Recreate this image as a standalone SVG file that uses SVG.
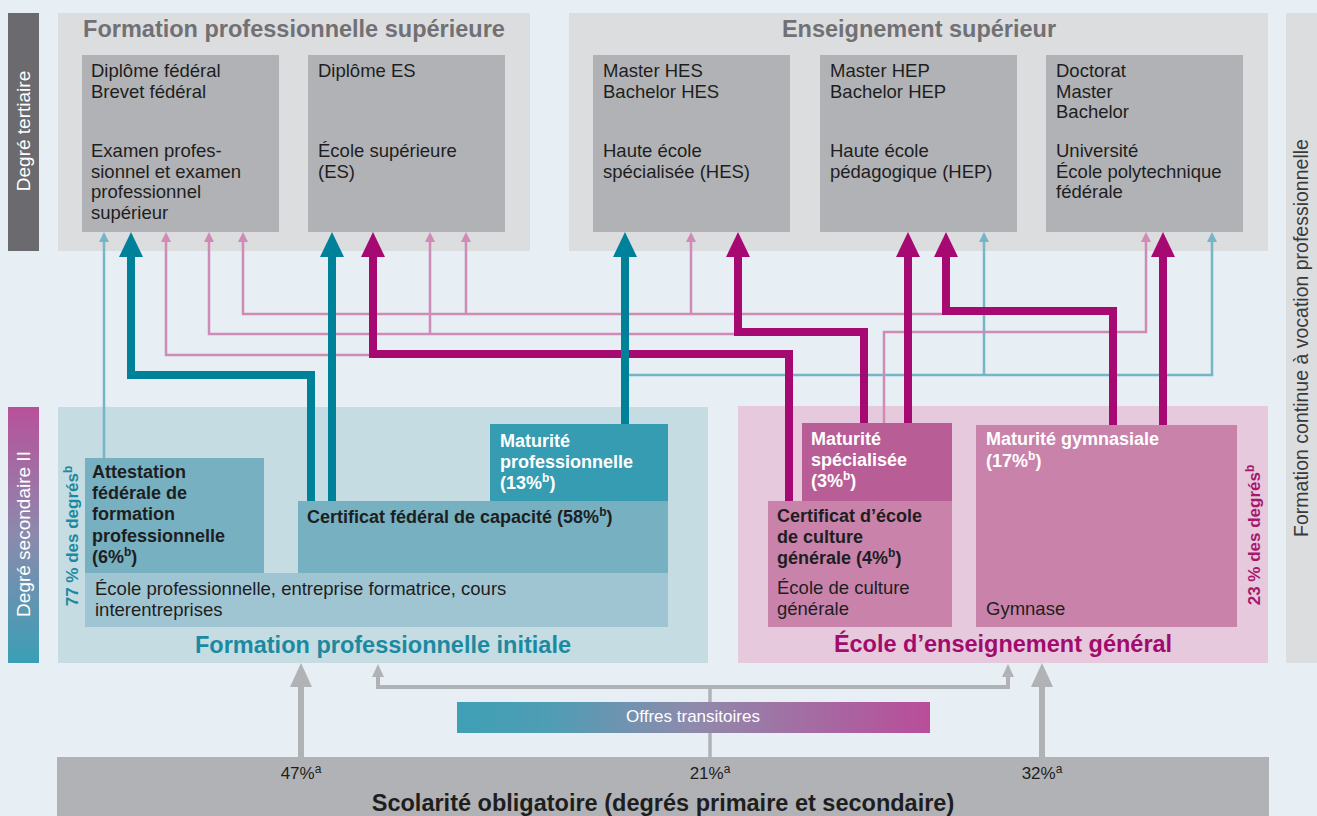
<svg xmlns="http://www.w3.org/2000/svg" width="1317" height="816" viewBox="0 0 1317 816">
<defs>
<style>
text{font-family:"Liberation Sans",Arial,sans-serif}
.r{font-size:18.5px;fill:#1e1e1e}
.b{font-size:18px;font-weight:bold;fill:#1e1e1e}
.bw{font-size:18px;font-weight:bold;fill:#fff}
.t{font-size:23.5px;font-weight:bold;text-anchor:middle}
.tg{fill:#717175}
.side{font-size:19px;fill:#fff;text-anchor:middle}
.sup{font-size:12px}
.thkT{fill:none;stroke:#00819a;stroke-width:8}
.thkM{fill:none;stroke:#a60a72;stroke-width:8}
.thnT{fill:none;stroke:#75b5c6;stroke-width:2.5}
.thnP{fill:none;stroke:#cf8ab5;stroke-width:2.5}
.gry{fill:none;stroke:#b1b2b5}
.box3{fill:#b1b2b5}
</style>
<linearGradient id="gSec" x1="0" y1="0" x2="0" y2="1">
<stop offset="0" stop-color="#b8519a"/><stop offset="0.5" stop-color="#8b8aad"/><stop offset="1" stop-color="#3a9fb5"/>
</linearGradient>
<linearGradient id="gOff" x1="0" y1="0" x2="1" y2="0">
<stop offset="0" stop-color="#3ea0b5"/><stop offset="0.2" stop-color="#4f9db4"/><stop offset="0.5" stop-color="#8f8aab"/><stop offset="1" stop-color="#b94d9a"/>
</linearGradient>
<marker id="aT" markerUnits="userSpaceOnUse" markerWidth="25" markerHeight="24" viewBox="0 0 25 24" refX="0" refY="12" orient="auto"><path d="M0,0L25,12L0,24z" fill="#00819a"/></marker>
<marker id="aM" markerUnits="userSpaceOnUse" markerWidth="25" markerHeight="24" viewBox="0 0 25 24" refX="0" refY="12" orient="auto"><path d="M0,0L25,12L0,24z" fill="#a60a72"/></marker>
<marker id="at" markerUnits="userSpaceOnUse" markerWidth="10" markerHeight="10" viewBox="0 0 10 10" refX="0" refY="5" orient="auto"><path d="M0,0L10,5L0,10z" fill="#75b5c6"/></marker>
<marker id="ap" markerUnits="userSpaceOnUse" markerWidth="10" markerHeight="10" viewBox="0 0 10 10" refX="0" refY="5" orient="auto"><path d="M0,0L10,5L0,10z" fill="#cf8ab5"/></marker>
<marker id="ag" markerUnits="userSpaceOnUse" markerWidth="24" markerHeight="22" viewBox="0 0 24 22" refX="0" refY="11" orient="auto"><path d="M0,0L24,11L0,22z" fill="#b1b2b5"/></marker>
<marker id="ags" markerUnits="userSpaceOnUse" markerWidth="13" markerHeight="12" viewBox="0 0 13 12" refX="0" refY="6" orient="auto"><path d="M0,0L13,6L0,12z" fill="#b1b2b5"/></marker>
</defs>
<rect x="0" y="0" width="1317" height="816" fill="#e7eff5"/>

<g id="sidebar-tertiaire">
<rect x="8" y="13" width="31" height="238" fill="#6b6b6f"/>
<text class="side" transform="translate(30,131) rotate(-90)">Degré tertiaire</text>
</g>
<g id="sidebar-secondaire">
<rect x="8" y="407" width="31" height="256" fill="url(#gSec)"/>
<text class="side" transform="translate(30,534) rotate(-90)">Degré secondaire II</text>
</g>
<g id="sidebar-continue">
<rect x="1286" y="13" width="31" height="650" fill="#dcdddf"/>
<text transform="translate(1308,338) rotate(-90)" text-anchor="middle" font-size="19.5" fill="#3a3a3c">Formation continue à vocation professionnelle</text>
</g>

<g id="fps">
<rect x="58" y="13" width="472" height="238" fill="#dcdddf"/>
<text class="t tg" x="294" y="37">Formation professionnelle supérieure</text>
</g>
<g id="examen-pro">
<rect class="box3" x="82" y="55" width="197" height="177"/>
<text class="r" x="91" y="77">Diplôme fédéral</text>
<text class="r" x="91" y="98">Brevet fédéral</text>
<text class="r" x="91" y="157">Examen profes-</text>
<text class="r" x="91" y="178">sionnel et examen</text>
<text class="r" x="91" y="198">professionnel</text>
<text class="r" x="91" y="219">supérieur</text>
</g>
<g id="es">
<rect class="box3" x="308" y="55" width="197" height="177"/>
<text class="r" x="318" y="77">Diplôme ES</text>
<text class="r" x="318" y="157">École supérieure</text>
<text class="r" x="318" y="178">(ES)</text>
</g>

<g id="ens-sup">
<rect x="569" y="13" width="699" height="238" fill="#dcdddf"/>
<text class="t tg" x="919" y="37">Enseignement supérieur</text>
</g>
<g id="hes">
<rect class="box3" x="593" y="55" width="197" height="177"/>
<text class="r" x="603" y="77">Master HES</text>
<text class="r" x="603" y="98">Bachelor HES</text>
<text class="r" x="603" y="157">Haute école</text>
<text class="r" x="603" y="178">spécialisée (HES)</text>
</g>
<g id="hep">
<rect class="box3" x="820" y="55" width="197" height="177"/>
<text class="r" x="830" y="77">Master HEP</text>
<text class="r" x="830" y="98">Bachelor HEP</text>
<text class="r" x="830" y="157">Haute école</text>
<text class="r" x="830" y="178">pédagogique (HEP)</text>
</g>
<g id="uni">
<rect class="box3" x="1046" y="55" width="197" height="177"/>
<text class="r" x="1056" y="77">Doctorat</text>
<text class="r" x="1056" y="98">Master</text>
<text class="r" x="1056" y="118">Bachelor</text>
<text class="r" x="1056" y="157">Université</text>
<text class="r" x="1056" y="178">École polytechnique</text>
<text class="r" x="1056" y="198">fédérale</text>
</g>

<g id="fpi">
<rect x="58" y="407" width="650" height="256" fill="#c5dce3"/>
<text class="t" x="383" y="653" fill="#1b8aa0">Formation professionnelle initiale</text>
<text transform="translate(78,536) rotate(-90)" text-anchor="middle" font-size="17" font-weight="bold" fill="#1b8aa0">77 % des degrés<tspan class="sup" dy="-6">b</tspan></text>
</g>
<g id="ecole-pro">
<rect x="85" y="573" width="583" height="54" fill="#9fc5d3"/>
<text class="r" x="95" y="595">École professionnelle, entreprise formatrice, cours</text>
<text class="r" x="95" y="616">interentreprises</text>
</g>
<g id="attestation">
<rect x="85" y="458" width="179" height="115" fill="#76b0c1"/>
<text class="b" x="92" y="478">Attestation</text>
<text class="b" x="92" y="499">fédérale de</text>
<text class="b" x="92" y="520">formation</text>
<text class="b" x="92" y="542">professionnelle</text>
<text class="b" x="92" y="563">(6%<tspan class="sup" dy="-7">b</tspan><tspan dy="7">)</tspan></text>
</g>
<g id="cfc">
<rect x="298" y="501" width="370" height="72" fill="#76b0c1"/>
<text class="b" x="307" y="523">Certificat fédéral de capacité (58%<tspan class="sup" dy="-7">b</tspan><tspan dy="7">)</tspan></text>
</g>
<g id="mp">
<rect x="490" y="424" width="178" height="77" fill="#359cb2"/>
<text class="bw" x="500" y="447">Maturité</text>
<text class="bw" x="500" y="468">professionnelle</text>
<text class="bw" x="500" y="489">(13%<tspan class="sup" dy="-7">b</tspan><tspan dy="7">)</tspan></text>
</g>

<g id="eeg">
<rect x="738" y="406" width="530" height="257" fill="#e6c9dc"/>
<text class="t" x="1003" y="652" fill="#a10b6e">École d’enseignement général</text>
<text transform="translate(1260,535) rotate(-90)" text-anchor="middle" font-size="17" font-weight="bold" fill="#a8176f">23 % des degrés<tspan class="sup" dy="-6">b</tspan></text>
</g>
<g id="ecg">
<rect x="768" y="501" width="184" height="126" fill="#c983ab"/>
<text class="b" x="777" y="522">Certificat d’école</text>
<text class="b" x="777" y="543">de culture</text>
<text class="b" x="777" y="564">générale (4%<tspan class="sup" dy="-7">b</tspan><tspan dy="7">)</tspan></text>
<text class="r" x="777" y="594">École de culture</text>
<text class="r" x="777" y="615">générale</text>
</g>
<g id="ms">
<rect x="802" y="423" width="150" height="78" fill="#b95d96"/>
<text class="bw" x="811" y="445">Maturité</text>
<text class="bw" x="811" y="466">spécialisée</text>
<text class="bw" x="811" y="487">(3%<tspan class="sup" dy="-7">b</tspan><tspan dy="7">)</tspan></text>
</g>
<g id="mg">
<rect x="976" y="425" width="261" height="202" fill="#c983ab"/>
<text class="bw" x="986" y="445">Maturité gymnasiale</text>
<text class="bw" x="986" y="467">(17%<tspan class="sup" dy="-7">b</tspan><tspan dy="7">)</tspan></text>
<text class="r" x="986" y="615">Gymnase</text>
</g>

<g id="connectors">
<path class="gry" stroke-width="3.5" d="M710,757V687"/>
<path class="gry" stroke-width="4" d="M710,687H378V677" marker-end="url(#ags)"/>
<path class="gry" stroke-width="4" d="M710,687H1008V677" marker-end="url(#ags)"/>
<path class="gry" stroke-width="6" d="M301,757V687" marker-end="url(#ag)"/>
<path class="gry" stroke-width="6" d="M1042,757V687" marker-end="url(#ag)"/>

<path class="thnT" d="M104,458V242" marker-end="url(#at)"/>
<path class="thnT" d="M628,375H1212V242" marker-end="url(#at)"/>
<path class="thnT" d="M984,375V242" marker-end="url(#at)"/>
<path class="thnP" d="M942,314H243V242" marker-end="url(#ap)"/>
<path class="thnP" d="M466,314V242" marker-end="url(#ap)"/>
<path class="thnP" d="M691,314V242" marker-end="url(#ap)"/>
<path class="thnP" d="M736,334H209V242" marker-end="url(#ap)"/>
<path class="thnP" d="M430,334V242" marker-end="url(#ap)"/>
<path class="thnP" d="M371,355H166V242" marker-end="url(#ap)"/>
<path class="thnP" d="M884,423V332H1146V242" marker-end="url(#ap)"/>

<path class="thkM" d="M789,501V354H373V257" marker-end="url(#aM)"/>
<path class="thkM" d="M864,423V332H738V257" marker-end="url(#aM)"/>
<path class="thkM" d="M908,423V257" marker-end="url(#aM)"/>
<path class="thkM" d="M1113,425V311H946V257" marker-end="url(#aM)"/>
<path class="thkM" d="M1163,425V257" marker-end="url(#aM)"/>

<path class="thkT" d="M311,501V375H131V257" marker-end="url(#aT)"/>
<path class="thkT" d="M332,501V257" marker-end="url(#aT)"/>
<path class="thkT" d="M625,424V257" marker-end="url(#aT)"/>
</g>

<g id="offres">
<rect x="457" y="702" width="473" height="31" fill="url(#gOff)"/>
<text x="693" y="722" text-anchor="middle" font-size="17" fill="#fff">Offres transitoires</text>
</g>

<g id="scolarite">
<rect x="57" y="757" width="1212" height="59" fill="#b1b2b5"/>
<text x="301" y="779" text-anchor="middle" font-size="17" fill="#1e1e1e">47%<tspan class="sup" dy="-6">a</tspan></text>
<text x="710" y="779" text-anchor="middle" font-size="17" fill="#1e1e1e">21%<tspan class="sup" dy="-6">a</tspan></text>
<text x="1042" y="779" text-anchor="middle" font-size="17" fill="#1e1e1e">32%<tspan class="sup" dy="-6">a</tspan></text>
<text class="t" x="663" y="811" fill="#1e1e1e">Scolarité obligatoire (degrés primaire et secondaire)</text>
</g>
</svg>
